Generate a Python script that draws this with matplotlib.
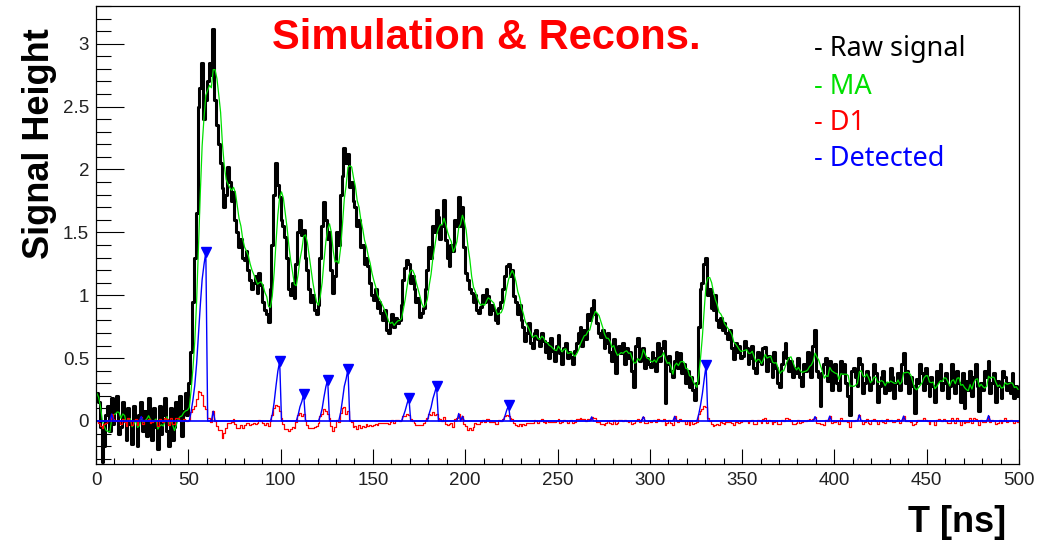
import numpy as np
import pandas as pd
import matplotlib.pyplot as plt
from matplotlib.ticker import MultipleLocator

# raw signal, 1 ns bins from t = 0 to 500 ns (one row = 10 ns)
t_ns = np.arange(0, 500) + 0.5
raw = np.array([
    0.22, 0.15, -0.05, -0.33, -0.20, 0.05, 0.12, -0.08, 0.18, -0.02,
    0.08, 0.20, -0.10, -0.05, 0.15, 0.02, -0.15, 0.10, -0.02, -0.18,
    0.12, 0.02, -0.20, 0.05, 0.15, -0.08, 0.08, -0.12, 0.18, 0.00,
    -0.15, 0.10, -0.05, -0.22, 0.12, -0.10, 0.05, 0.18, -0.08, -0.20,
    0.10, -0.15, -0.05, 0.15, 0.02, 0.20, -0.12, 0.08, 0.22, 0.05,
    0.30, 0.55, 0.95, 1.30, 1.65, 2.50, 2.65, 2.85, 2.40, 2.55,      # 50
    2.70, 2.85, 2.75, 3.12, 2.55, 2.35, 2.20, 2.05, 1.85, 1.70,
    1.80, 2.02, 1.90, 1.75, 1.82, 1.60, 1.50, 1.38, 1.45, 1.30,
    1.28, 1.35, 1.20, 1.12, 1.05, 1.10, 1.15, 1.02, 1.18, 1.08,
    0.95, 0.88, 0.85, 0.79, 1.05, 1.40, 1.80, 2.05, 1.88, 1.78,
    1.60, 1.55, 1.46, 1.30, 1.05, 1.00, 1.10, 0.98, 1.25, 1.50,      # 100
    1.60, 1.48, 1.52, 1.30, 1.20, 1.05, 0.95, 1.00, 0.88, 0.85,
    0.92, 1.30, 1.55, 1.74, 1.60, 1.45, 1.50, 1.20, 1.02, 1.15,
    1.50, 1.40, 1.80, 1.95, 2.17, 2.05, 2.12, 1.86, 1.90, 1.75,
    1.70, 1.55, 1.60, 1.38, 1.40, 1.25, 1.30, 1.23, 1.10, 1.00,
    0.96, 1.05, 0.90, 0.95, 0.86, 0.80, 0.88, 0.72, 0.70, 0.78,      # 150
    0.85, 0.75, 0.82, 0.78, 0.80, 0.92, 1.12, 1.22, 1.28, 1.25,
    1.10, 1.15, 1.05, 0.95, 0.98, 0.83, 0.86, 0.90, 1.05, 1.20,
    1.38, 1.30, 1.55, 1.50, 1.68, 1.62, 1.45, 1.55, 1.76, 1.44,
    1.30, 1.23, 1.40, 1.35, 1.60, 1.55, 1.78, 1.55, 1.70, 1.38,
    1.18, 1.12, 1.05, 1.02, 0.95, 1.00, 0.88, 0.86, 0.91, 1.00,      # 200
    0.95, 1.05, 0.99, 0.85, 0.92, 0.88, 0.80, 0.78, 0.90, 0.95,
    1.05, 1.15, 1.23, 1.25, 1.15, 1.20, 0.99, 0.95, 0.85, 0.92,
    0.80, 0.75, 0.64, 0.70, 0.78, 0.62, 0.58, 0.70, 0.72, 0.65,
    0.60, 0.70, 0.64, 0.55, 0.62, 0.50, 0.66, 0.56, 0.48, 0.60,
    0.68, 0.54, 0.45, 0.58, 0.62, 0.50, 0.55, 0.51, 0.45, 0.56,      # 250
    0.62, 0.70, 0.75, 0.60, 0.72, 0.65, 0.85, 0.80, 0.90, 0.96,
    0.85, 0.78, 0.70, 0.67, 0.72, 0.58, 0.62, 0.70, 0.55, 0.48,
    0.65, 0.38, 0.55, 0.60, 0.54, 0.62, 0.45, 0.58, 0.50, 0.55,
    0.40, 0.27, 0.60, 0.66, 0.48, 0.52, 0.58, 0.42, 0.50, 0.45,
    0.43, 0.55, 0.50, 0.40, 0.62, 0.48, 0.58, 0.64, 0.14, 0.45,      # 300
    0.52, 0.40, 0.35, 0.48, 0.55, 0.42, 0.54, 0.38, 0.45, 0.30,
    0.40, 0.27, 0.35, 0.25, 0.17, 0.30, 0.75, 1.05, 1.10, 1.25,
    1.30, 1.00, 1.05, 0.90, 0.88, 1.00, 0.80, 0.75, 0.82, 0.72,
    0.78, 0.70, 0.65, 0.72, 0.58, 0.49, 0.62, 0.55, 0.60, 0.50,
    0.52, 0.64, 0.58, 0.45, 0.50, 0.60, 0.42, 0.38, 0.55, 0.48,      # 350
    0.45, 0.58, 0.59, 0.40, 0.52, 0.48, 0.35, 0.55, 0.42, 0.30,
    0.27, 0.45, 0.55, 0.62, 0.50, 0.40, 0.48, 0.35, 0.42, 0.38,
    0.50, 0.35, 0.28, 0.45, 0.40, 0.55, 0.48, 0.35, 0.60, 0.72,
    0.40, 0.35, 0.12, 0.38, 0.45, 0.50, 0.32, 0.48, 0.25, 0.40,
    0.45, 0.30, 0.25, 0.48, 0.38, 0.45, 0.30, 0.20, 0.05, 0.40,      # 400
    0.42, 0.35, 0.28, 0.50, 0.45, 0.22, 0.30, 0.40, 0.35, 0.25,
    0.30, 0.45, 0.38, 0.15, 0.28, 0.35, 0.40, 0.22, 0.30, 0.25,
    0.42, 0.35, 0.18, 0.30, 0.38, 0.25, 0.45, 0.54, 0.30, 0.40,
    0.22, 0.35, 0.28, 0.06, 0.33, 0.30, 0.45, 0.38, 0.25, 0.42,
    0.30, 0.20, 0.35, 0.28, 0.15, 0.40, 0.32, 0.45, 0.25, 0.30,      # 450
    0.38, 0.18, 0.28, 0.45, 0.35, 0.22, 0.40, 0.30, 0.15, 0.38,
    0.10, 0.32, 0.25, 0.40, 0.20, 0.35, 0.45, 0.28, 0.08, 0.30,
    0.25, 0.40, 0.35, 0.48, 0.22, 0.30, 0.38, 0.15, 0.32, 0.28,
    0.18, 0.40, 0.35, 0.25, 0.30, 0.22, 0.38, 0.18, 0.28, 0.20,
])

legend_labels = ['Raw signal', 'MA', 'D1', 'Detected']
legend_colors = ['black', '#00e000', 'red', 'blue']

# moving average (5 ns trailing), first derivative, accumulated rises
ma = pd.Series(raw).rolling(5, min_periods=1).mean().to_numpy()
d1 = np.diff(ma, prepend=ma[0]) * 0.54

det = np.zeros_like(d1)
peaks = []
acc = 0.0
for i, d in enumerate(d1):
    if d > 0.03:
        acc += d
        det[i] = acc
    else:
        if acc > 0.1:
            peaks.append(i - 1)
        acc = 0.0
peaks = np.array(peaks, dtype=int)
print(t_ns[peaks], det[peaks])

fig = plt.figure(figsize=(10.38, 5.44), dpi=100)
ax = fig.add_axes([96/1038, 80/544, 923/1038, 458/544])

ax.plot(t_ns, raw, color='black', lw=2.2, drawstyle='steps-mid')
ax.plot(t_ns, ma, color=legend_colors[1], lw=0.9)
ax.plot(t_ns, d1, color='red', lw=0.9, drawstyle='steps-mid')
ax.axhline(0, color='blue', lw=1.2)
ax.plot(t_ns, det, color='blue', lw=1.0)
ax.plot(t_ns[peaks], det[peaks], 'v', color='blue', ms=7)

ax.set_xlim(0, 500)
ax.set_ylim(-0.342, 3.30)
ax.xaxis.set_major_locator(MultipleLocator(50))
ax.xaxis.set_minor_locator(MultipleLocator(10))
ax.yaxis.set_major_locator(MultipleLocator(0.5))
ax.yaxis.set_minor_locator(MultipleLocator(0.1))
ax.yaxis.set_major_formatter(plt.FuncFormatter(lambda v, p: f'{v:g}'))
ax.tick_params(axis='x', which='major', direction='in', length=11, width=0.8, pad=6)
ax.tick_params(axis='x', which='minor', direction='in', length=4.5, width=0.8)
ax.tick_params(axis='y', which='major', direction='in', length=20, width=0.8, pad=5)
ax.tick_params(axis='y', which='minor', direction='in', length=10.5, width=0.8)
for lab in ax.get_xticklabels() + ax.get_yticklabels():
    lab.set_fontfamily('Liberation Sans')
    lab.set_fontsize(13.5)
    lab.set_color('#222222')
for s in ax.spines.values():
    s.set_linewidth(0.9)

fig.text(0.4687, 0.930, 'Simulation & Recons.', color='red', fontsize=30,
         fontweight='bold', family='Liberation Sans', ha='center', va='center')
fig.text(0.0385, 0.736, 'Signal Height', rotation=90, fontsize=26,
         fontweight='bold', family='Liberation Sans', ha='center', va='center')
fig.text(0.922, 0.040, 'T [ns]', fontsize=26, fontweight='bold',
         family='Liberation Sans', ha='center', va='center')

leg_y = [0.910, 0.840, 0.774, 0.708]
for lab, col, y in zip(legend_labels, legend_colors, leg_y):
    fig.text(0.784, y, '- ' + lab, color=col, fontsize=19.5,
             family='Noto Sans', ha='left', va='center')

fig.savefig('out.png', dpi=100)
